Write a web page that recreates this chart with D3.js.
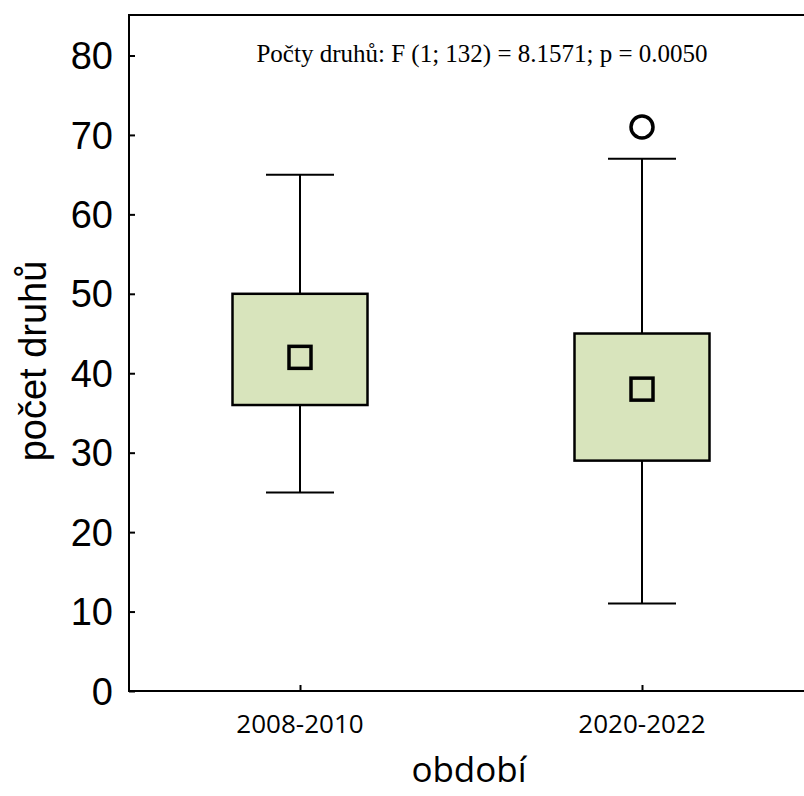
<!DOCTYPE html>
<html>
<head>
<meta charset="utf-8">
<style>
  body { margin: 0; background: #fff; }
  svg { font-family: Arial, "Liberation Sans", sans-serif; }
  .frame { fill: none; stroke: #000; stroke-width: 2px; }
  .box { fill: #d8e4bc; stroke: #000; stroke-width: 2.5px; }
  .whisker { stroke: #000; stroke-width: 2px; }
  .mean { fill: none; stroke: #000; stroke-width: 3.5px; }
  .outlier { fill: none; stroke: #000; stroke-width: 3.5px; }
  .axis path, .axis line { stroke: #000; stroke-width: 2px; }
</style>
</head>
<body>
<svg width="804" height="796"></svg>
<script src="https://d3js.org/d3.v7.min.js"></script>
<script>

var periods = ['2008-2010', '2020-2022'];
var means = [42, 38];
var boxLow = [36, 29];
var boxHigh = [50, 45];
var whiskerLow = [25, 11];
var whiskerHigh = [65, 67];
var outliers = [[], [71]];
var yTicks = [0, 10, 20, 30, 40, 50, 60, 70, 80];

var note = 'Počty druhů: F (1; 132) = 8.1571; p = 0.0050';

var svg = d3.select('svg');

var plotLeft = 129, plotTop = 15, plotRight = 806, plotBottom = 691;

var y = d3.scaleLinear()
  .domain([0, 85])
  .range([plotBottom, plotBottom - 85 * 7.944]);

var x = d3.scalePoint()
  .domain(periods)
  .range([300, 642]);

var boxW = 135;
var capW = 68;

// frame (left, top, bottom)
svg.append('path')
  .attr('class', 'frame')
  .attr('d', 'M' + plotRight + ',' + plotTop + 'H' + plotLeft + 'V' + plotBottom + 'H' + plotRight);

// y axis
var yAxis = svg.append('g')
  .attr('class', 'axis')
  .attr('transform', 'translate(' + plotLeft + ',0)')
  .call(d3.axisRight(y).tickValues(yTicks).tickSize(6).tickFormat(''));
yAxis.select('.domain').remove();

svg.selectAll('.ylab')
  .data(yTicks)
  .enter().append('text')
  .attr('class', 'ylab')
  .attr('x', 113)
  .attr('y', function(d) { return y(d); })
  .attr('dy', '0.36em')
  .attr('text-anchor', 'end')
  .style('font-size', '38px')
  .text(function(d) { return d; });

// x axis
var xAxis = svg.append('g')
  .attr('class', 'axis')
  .attr('transform', 'translate(0,' + plotBottom + ')')
  .call(d3.axisTop(x).tickSize(6).tickFormat(''));
xAxis.select('.domain').remove();

svg.selectAll('.xlab')
  .data(periods)
  .enter().append('text')
  .attr('class', 'xlab')
  .attr('x', function(d) { return x(d); })
  .attr('y', 733)
  .attr('text-anchor', 'middle')
  .style('font-family', '"Open Sans", sans-serif')
  .style('font-size', '26px')
  .text(function(d) { return d; });

// boxes
var groups = svg.selectAll('.grp')
  .data(periods)
  .enter().append('g')
  .attr('class', 'grp');

groups.append('line')
  .attr('class', 'whisker')
  .attr('x1', function(d) { return x(d); })
  .attr('x2', function(d) { return x(d); })
  .attr('y1', function(d, i) { return y(whiskerHigh[i]); })
  .attr('y2', function(d, i) { return y(whiskerLow[i]); });

groups.append('line')
  .attr('class', 'whisker')
  .attr('x1', function(d) { return x(d) - capW / 2; })
  .attr('x2', function(d) { return x(d) + capW / 2; })
  .attr('y1', function(d, i) { return y(whiskerHigh[i]); })
  .attr('y2', function(d, i) { return y(whiskerHigh[i]); });

groups.append('line')
  .attr('class', 'whisker')
  .attr('x1', function(d) { return x(d) - capW / 2; })
  .attr('x2', function(d) { return x(d) + capW / 2; })
  .attr('y1', function(d, i) { return y(whiskerLow[i]); })
  .attr('y2', function(d, i) { return y(whiskerLow[i]); });

groups.append('rect')
  .attr('class', 'box')
  .attr('x', function(d) { return x(d) - boxW / 2; })
  .attr('width', boxW)
  .attr('y', function(d, i) { return y(boxHigh[i]); })
  .attr('height', function(d, i) { return y(boxLow[i]) - y(boxHigh[i]); });

groups.append('rect')
  .attr('class', 'mean')
  .attr('x', function(d) { return x(d) - 11; })
  .attr('y', function(d, i) { return y(means[i]) - 11; })
  .attr('width', 22)
  .attr('height', 22);

groups.each(function(d, i) {
  d3.select(this).selectAll('.outlier')
    .data(outliers[i])
    .enter().append('circle')
    .attr('class', 'outlier')
    .attr('cx', x(d))
    .attr('cy', function(v) { return y(v); })
    .attr('r', 11);
});

// annotation
svg.append('text')
  .attr('x', 482)
  .attr('y', 62)
  .attr('text-anchor', 'middle')
  .style('font-family', '"Liberation Serif", "Times New Roman", serif')
  .style('font-size', '25px')
  .text(note);

// axis titles
svg.append('text')
  .attr('transform', 'translate(46,' + 361 + ') rotate(-90)')
  .attr('text-anchor', 'middle')
  .style('font-size', '38px')
  .text('počet druhů');

svg.append('text')
  .attr('x', 469)
  .attr('y', 782)
  .attr('text-anchor', 'middle')
  .style('font-family', '"Open Sans", sans-serif')
  .style('font-size', '35px')
  .text('období');

</script>
</body>
</html>
